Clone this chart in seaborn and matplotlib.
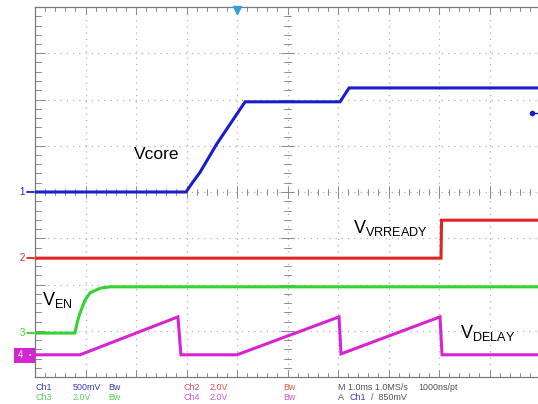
import numpy as np
import pandas as pd
import matplotlib
matplotlib.use("Agg")
import matplotlib.pyplot as plt
import seaborn as sns
from matplotlib.patches import Rectangle

# Oscilloscope capture, x in divisions (1.0 ms/div), y in screen divisions (0..8)
vcore_x = [0.0, 2.99, 3.11, 3.27, 3.60, 4.16, 6.04, 6.22, 10.0]
vcore_y = [4.00, 4.00, 4.19, 4.43, 5.04, 5.95, 5.95, 6.25, 6.25]

vrready_x = [0.0, 8.04, 8.05, 10.0]
vrready_y = [2.57, 2.57, 3.39, 3.39]

ven_x = [0.0, 0.79, 0.84, 0.89, 0.99, 1.09, 1.29, 1.49, 10.0]
ven_y = [0.95, 0.95, 1.20, 1.38, 1.66, 1.82, 1.92, 1.95, 1.95]

vdelay_x = [0.0, 0.89, 2.83, 2.89, 4.00, 6.02, 6.06, 8.02, 8.06, 10.0]
vdelay_y = [0.48, 0.48, 1.30, 0.48, 0.48, 1.30, 0.50, 1.30, 0.48, 0.48]

labels = ["Vcore", "VVRREADY", "VEN", "VDELAY"]
colors = ["#1c1ccc", "#e02424", "#34d234", "#d424d4"]

sns.set_theme(style="white")
plt.rcParams["font.family"] = ["Liberation Sans", "DejaVu Sans"]
plt.rcParams["mathtext.fontset"] = "custom"
plt.rcParams["mathtext.rm"] = "Liberation Sans"

W, H = 538, 404
fig = plt.figure(figsize=(W / 100, H / 100), dpi=100)
fig.patch.set_facecolor("white")
ax = fig.add_axes([35 / W, (H - 377) / H, 505 / W, 370 / H])

traces = [(vcore_x, vcore_y), (vrready_x, vrready_y), (ven_x, ven_y), (vdelay_x, vdelay_y)]
for (xs, ys), lab, col in zip(traces, labels, colors):
    df = pd.DataFrame({"t": xs, "v": ys})
    sns.lineplot(data=df, x="t", y="v", sort=False, color=col, lw=2.2, ax=ax,
                 solid_joinstyle="miter", zorder=3)

ax.set_xlim(0, 10)
ax.set_ylim(0, 8)
ax.set_xlabel("")
ax.set_ylabel("")
ax.set_xticks([])
ax.set_yticks([])

# graticule
grid_col = "#b0b0b0"
for i in range(1, 10):
    ax.axvline(i, color=grid_col, ls=(0, (1, 4)), lw=0.9, zorder=1)
for j in range(1, 8):
    ax.axhline(j, color=grid_col, ls=(0, (1, 4)), lw=0.9, zorder=1)

tick_col = "#8a8a8a"
for k in np.arange(0, 10.01, 0.2):
    big = abs(k - round(k)) < 1e-6
    h = 0.12 if big else 0.07
    ax.plot([k, k], [4 - h, 4 + h], color=tick_col, lw=0.7, zorder=1)
    ax.plot([k, k], [0, h * 1.3], color=tick_col, lw=0.7, zorder=1)
    ax.plot([k, k], [8 - h * 1.3, 8], color=tick_col, lw=0.7, zorder=1)
for k in np.arange(0, 8.01, 0.2):
    big = abs(k - round(k)) < 1e-6
    h = 0.12 if big else 0.07
    ax.plot([5 - h, 5 + h], [k, k], color=tick_col, lw=0.7, zorder=1)
    ax.plot([0, h * 1.6], [k, k], color=tick_col, lw=0.7, zorder=1)

for side in ["left", "bottom", "top"]:
    ax.spines[side].set_color("#7a7a7a")
    ax.spines[side].set_linewidth(0.9)
ax.spines["right"].set_visible(False)

# trace labels
ax.text(1.96, 4.82, "Vcore", fontsize=12.5, color="black", va="center")
ax.text(6.30, 3.22, r"$\mathregular{V_{VRREADY}}$", fontsize=13, color="black", va="center")
ax.text(0.13, 1.66, r"$\mathregular{V_{EN}}$", fontsize=13, color="black", va="center")
ax.text(8.42, 0.96, r"$\mathregular{V_{DELAY}}$", fontsize=13, color="black", va="center")

# channel ground markers on the left
ax.text(-0.25, 4.0, "1", color=colors[0], fontsize=7, ha="center", va="center", clip_on=False)
ax.text(-0.25, 2.57, "2", color=colors[1], fontsize=7, ha="center", va="center", clip_on=False)
ax.text(-0.25, 0.95, "3", color=colors[2], fontsize=7, ha="center", va="center", clip_on=False)
for yv, col in [(4.0, colors[0]), (2.57, colors[1]), (0.95, colors[2])]:
    ax.plot([-0.15, -0.02], [yv, yv], color=col, lw=1.3, clip_on=False)

# channel 4 marker box
fig.patches.append(Rectangle((14 / W, (H - 363) / H), 21 / W, 15 / H,
                             transform=fig.transFigure, fc=colors[3], ec="none"))
fig.text(20 / W, 1 - 355.5 / H, "4", color="white", fontsize=7, ha="center", va="center")
fig.text(30 / W, 1 - 355.5 / H, "•", color="white", fontsize=5, ha="center", va="center")

# trigger markers
ax.plot([4.0], [7.93], marker="v", color="#30a0e0", ms=6, clip_on=False, zorder=4)
ax.plot([9.85], [5.7], marker="o", color=colors[0], ms=3, clip_on=False, zorder=4)
ax.plot([9.85, 10.0], [5.7, 5.7], color=colors[0], lw=1, clip_on=False)

# status bar
fs = 6.4
row1, row2 = 1 - 387 / H, 1 - 397 / H
status = [
    (36, row1, "Ch1", "#3a3ab8"), (73, row1, "500mV", "#3a3ab8"), (108, row1, "Bw", "#3a3ab8"),
    (183, row1, "Ch2", "#e05050"), (210, row1, "2.0V", "#e05050"), (283, row1, "Bw", "#e05050"),
    (338, row1, "M 1.0ms 1.0MS/s", "#505050"), (418, row1, "1000ns/pt", "#505050"),
    (36, row2, "Ch3", "#58d058"), (73, row2, "2.0V", "#58d058"), (108, row2, "Bw", "#58d058"),
    (183, row2, "Ch4", "#d058d0"), (210, row2, "2.0V", "#d058d0"), (283, row2, "Bw", "#d058d0"),
    (338, row2, "A", "#505050"), (349, row2, "Ch1", "#3a3ab8"), (371, row2, "/  850mV", "#505050"),
]
for px, py, s, c in status:
    fig.text(px / W, py, s, fontsize=fs, color=c, va="center", ha="left")

fig.savefig("out.png", dpi=100)
